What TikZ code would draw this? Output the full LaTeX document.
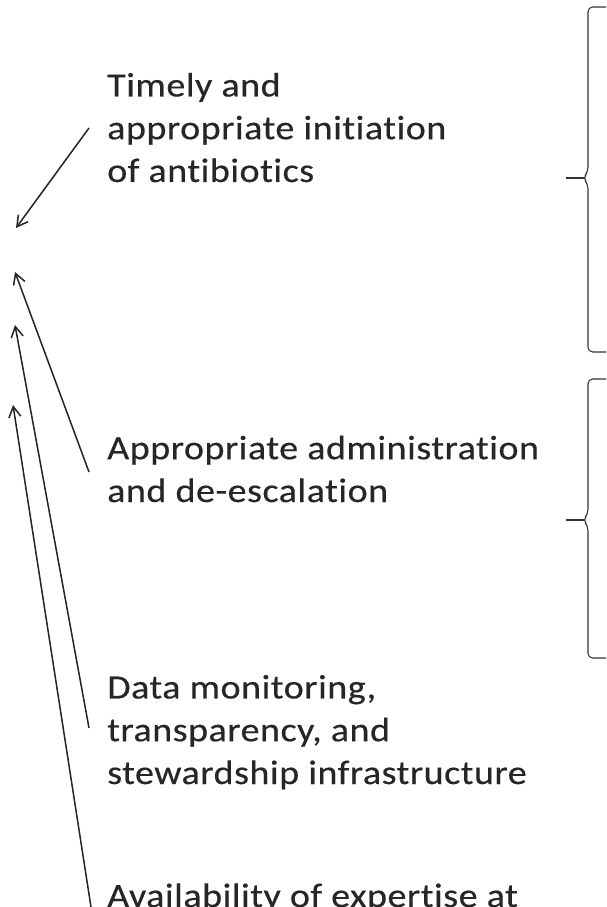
\documentclass[tikz,border=0pt]{standalone}
\usepackage{fontspec}
\setmainfont{Carlito}[RawFeature={-liga},FakeStretch=1.12,LetterSpace=1.5,FakeBold=0.4]
\usetikzlibrary{arrows.meta}

\begin{document}
\begin{tikzpicture}[x=0.03cm,y=-0.03cm,>={Straight Barb[length=3.2mm,width=3.6mm]},
    lbl/.style={anchor=base west,inner sep=0pt,align=left,text=black!85,
      font=\fontsize{29}{36.5}\selectfont},
    line/.style={line width=1.3pt,draw=black!85},
    bracket/.style={line width=0.9pt,draw=black!80,rounded corners=4}]
    \useasboundingbox (0,0) rectangle (606,907);
    \clip (0,0) rectangle (606,907);

    \node[lbl] (timely) at (107,182) {Timely and\\appropriate initiation\\of antibiotics};
    \node[lbl] (admin)  at (107,502) {Appropriate administration\\and de-escalation};
    \node[lbl] (data)   at (107,784) {Data monitoring,\\transparency, and\\stewardship infrastructure};
    \node[lbl] (expert) at (107,907) {Availability of expertise at};

    \coordinate (timely-tail) at (89,128);
    \coordinate (admin-tail)  at (89,472);
    \coordinate (data-tail)   at (89,728);
    \coordinate (expert-tail) at (91,907);
    \coordinate (timely-tip)  at (16,228);
    \coordinate (admin-tip)   at (15,272);
    \coordinate (data-tip)    at (15,325);
    \coordinate (expert-tip)  at (13,405);

    \draw[line,->] (timely-tail) -- (timely-tip);
    \draw[line,->] (admin-tail)  -- (admin-tip);
    \draw[line,->] (data-tail)   -- (data-tip);
    \draw[line,->] (expert-tail) -- (expert-tip);

    % the two right hand braces
    \draw[bracket] (610,7) -- (588,7) -- (588,172) -- (583,178) -- (588,184) -- (588,352) -- (610,352);
    \draw[line width=0.9pt,black!80] (585,178) -- (566,178);
    \draw[bracket] (610,379) -- (588,379) -- (588,514) -- (583,520) -- (588,526) -- (588,658) -- (610,658);
    \draw[line width=0.9pt,black!80] (585,520) -- (566,520);
\end{tikzpicture}
\end{document}
